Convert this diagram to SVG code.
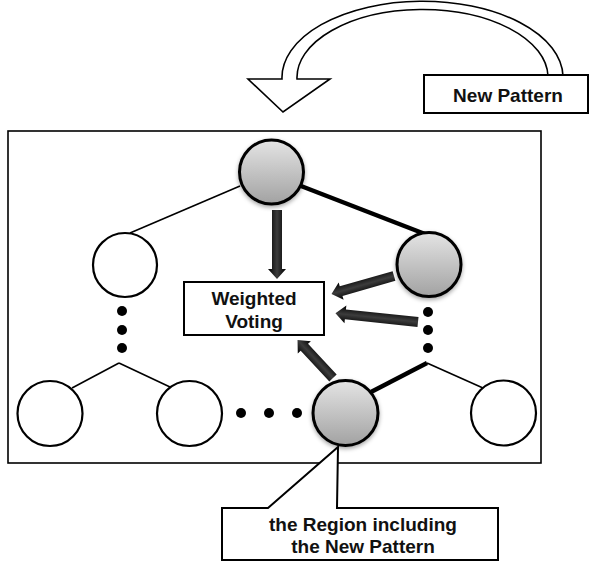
<svg xmlns="http://www.w3.org/2000/svg" width="589" height="565" viewBox="0 0 589 565">
  <style>
    .frame { fill: #fff; stroke: #000; stroke-width: 1.6; }
    .box { fill: #fff; stroke: #000; stroke-width: 2; }
    .node-white { fill: #fff; stroke: #000; stroke-width: 2.2; }
    .node-gray { fill: url(#ballFill); stroke: #000; stroke-width: 3; filter: url(#soft); }
    .thin { stroke: #000; stroke-width: 1.6; fill: none; }
    .thick { stroke: #000; stroke-width: 4.5; fill: none; }
    .dot { fill: #000; }
    .vote { fill: url(#shaftFill); }
    .label { font-family: "Liberation Sans", Arial, sans-serif; font-weight: bold; font-size: 19px; text-anchor: middle; fill: #111; }
  </style>
  <defs>
    <linearGradient id="ballFill" x1="0" y1="0" x2="0" y2="1">
      <stop offset="0" stop-color="#e4e4e4"/>
      <stop offset="1" stop-color="#a2a2a2"/>
    </linearGradient>
    <linearGradient id="shaftFill" x1="0" y1="0" x2="0" y2="1">
      <stop offset="0" stop-color="#000"/>
      <stop offset="0.5" stop-color="#3c3c3c"/>
      <stop offset="1" stop-color="#000"/>
    </linearGradient>
    <filter id="soft" x="-30%" y="-30%" width="160%" height="170%">
      <feDropShadow dx="0" dy="2" stdDeviation="2" flood-color="#000" flood-opacity="0.35"/>
    </filter>
  </defs>

  <!-- incoming pattern: hollow curved arrow -->
  <g id="incoming">
    <path d="M563,76 A140,76 0 0 0 282,79 L248,79 L283,112 L330,79 L297,79 A125.5,68 0 0 1 548,76 Z" fill="#fff" stroke="#000" stroke-width="1.6"/>
  </g>
  <g id="new-pattern">
    <rect class="box" x="424" y="75" width="164" height="38"/>
    <text class="label" x="508" y="102">New Pattern</text>
  </g>

  <!-- tree region -->
  <rect class="frame" x="8" y="131" width="533" height="332"/>

  <g id="connectors">
    <line class="thin" x1="240" y1="186" x2="130" y2="233"/>
    <line class="thick" x1="301" y1="186" x2="425" y2="234"/>
    <line class="thin" x1="119" y1="363" x2="72" y2="388"/>
    <line class="thin" x1="119" y1="363" x2="170" y2="387"/>
    <line class="thick" x1="427" y1="363" x2="371" y2="392"/>
    <line class="thin" x1="427" y1="363" x2="483" y2="388"/>
    <!-- weighted votes: arrows drawn along +x from the tail, then rotated -->
    <polygon class="vote" points="0,-5 59,-5 59,-9 69,0 59,9 59,5 0,5" transform="translate(277,210) rotate(90)"/>
    <polygon class="vote" points="0,-5 55,-5 55,-9 65,0 55,9 55,5 0,5" transform="translate(394,276) rotate(164)"/>
    <polygon class="vote" points="0,-5 73,-5 73,-9 83,0 73,9 73,5 0,5" transform="translate(418,322) rotate(186)"/>
    <polygon class="vote" points="0,-5 42,-5 42,-9 52,0 42,9 42,5 0,5" transform="translate(333,378) rotate(227)"/>
  </g>

  <g id="root"><circle class="node-gray" cx="271.5" cy="172" r="32"/></g>
  <g id="left-mid"><circle class="node-white" cx="125" cy="265" r="32"/></g>
  <g id="right-mid"><circle class="node-gray" cx="429" cy="264.5" r="32"/></g>
  <g id="leaf-1"><circle class="node-white" cx="50" cy="413.5" r="32.5"/></g>
  <g id="leaf-2"><circle class="node-white" cx="189.5" cy="413.5" r="32.5"/></g>
  <g id="leaf-hit"><circle class="node-gray" cx="345.5" cy="413" r="32.5"/></g>
  <g id="leaf-4"><circle class="node-white" cx="503.5" cy="413" r="32.5"/></g>

  <g id="ellipses">
    <circle class="dot" cx="122" cy="311" r="5"/>
    <circle class="dot" cx="122" cy="330" r="5"/>
    <circle class="dot" cx="122" cy="348" r="5"/>
    <circle class="dot" cx="428" cy="312" r="5"/>
    <circle class="dot" cx="428" cy="330" r="5"/>
    <circle class="dot" cx="428" cy="348" r="5"/>
    <circle class="dot" cx="241" cy="413" r="5"/>
    <circle class="dot" cx="269" cy="413" r="5"/>
    <circle class="dot" cx="297" cy="413" r="5"/>
  </g>

  <g id="voting">
    <rect class="box" x="184" y="282" width="140" height="53"/>
    <text class="label" x="254" y="305">Weighted</text>
    <text class="label" x="254" y="328">Voting</text>
  </g>

  <g id="region-callout">
    <path d="M222,508 L268,508 L338,447 L337,508 L498,508 L498,560 L222,560 Z" fill="#fff" stroke="#000" stroke-width="2"/>
    <text class="label" x="363" y="531">the Region including</text>
    <text class="label" x="363" y="553">the New Pattern</text>
  </g>
</svg>
